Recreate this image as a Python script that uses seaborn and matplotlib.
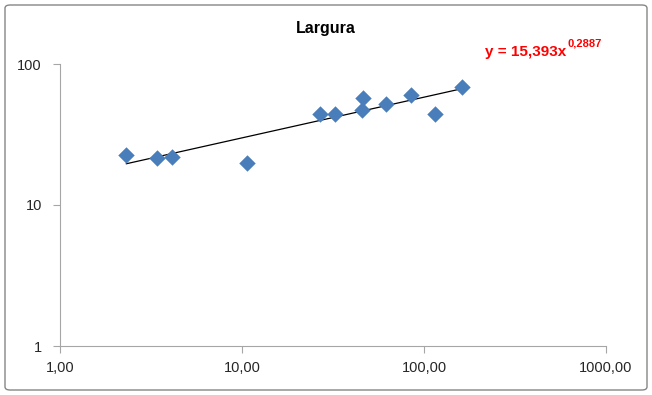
import numpy as np
import pandas as pd
import seaborn as sns
import matplotlib.pyplot as plt
from matplotlib.patches import FancyBboxPatch
from matplotlib.ticker import FixedLocator, NullLocator

sns.set_style("white")
plt.rcParams['font.family'] = ['Liberation Sans', 'DejaVu Sans']

# data
x_vals = [2.31, 3.41, 4.12, 10.7, 26.8, 32.4, 45.6, 46.2, 61.8, 84.8, 115, 162]
y_vals = [22.6, 21.5, 21.9, 19.9, 44.2, 44.2, 47.2, 57.4, 52.0, 60.3, 44.2, 68.7]
coef_a = 15.393
coef_b = 0.2887
x_ticks = [1, 10, 100, 1000]
x_labels = ["1,00", "10,00", "100,00", "1000,00"]
y_ticks = [1, 10, 100]
y_labels = ["1", "10", "100"]

df = pd.DataFrame({'x': x_vals, 'y': y_vals})
xs = np.geomspace(min(x_vals), max(x_vals), 50)
trend = pd.DataFrame({'x': xs, 'y': coef_a * xs ** coef_b})

fig = plt.figure(figsize=(6.52, 3.95), dpi=100)
ax = fig.add_axes([60/652, 49/395, 546/652, 282/395])

## trend line then the points on top
sns.lineplot(data=trend, x='x', y='y', ax=ax, color='black', linewidth=0.9, zorder=2)
sns.scatterplot(data=df, x='x', y='y', ax=ax, marker='D', s=70, color='#4a7ebb',
                edgecolor='#4a7ebb', linewidth=0, zorder=3)

ax.set_xscale('log')
ax.set_yscale('log')
ax.set_xlim(1, 1000)
ax.set_ylim(1, 100)
ax.xaxis.set_major_locator(FixedLocator(x_ticks))
ax.yaxis.set_major_locator(FixedLocator(y_ticks))
ax.xaxis.set_minor_locator(NullLocator())
ax.yaxis.set_minor_locator(NullLocator())
ax.set_xticklabels(x_labels)
ax.set_yticklabels(y_labels)
ax.set_xlabel('')
ax.set_ylabel('')
ax.tick_params(axis='both', which='major', length=5, width=0.8, color='#a6a6a6',
               labelsize=10.5, labelcolor='#262626', direction='out', pad=6)
ax.tick_params(axis='y', pad=8)
ax.tick_params(left=True, bottom=True)
for side in ['top', 'right']:
    ax.spines[side].set_visible(False)
for side in ['left', 'bottom']:
    ax.spines[side].set_color('#a6a6a6')
    ax.spines[side].set_linewidth(0.8)

fig.text(326/652, 1 - 28/395, 'Largura', ha='center', va='center',
         fontsize=11.5, fontweight='bold', color='black')

## equation with superscript exponent
eq = fig.text(485/652, 1 - 52/395, 'y = 15,393x', ha='left', va='center',
              fontsize=11, fontweight='bold', color='#ff0000')
fig.canvas.draw()
bb = eq.get_window_extent()
fig.text(bb.x1/652 + 0.002, 1 - 44/395, '0,2887', ha='left', va='center',
         fontsize=8, fontweight='bold', color='#ff0000')

border = FancyBboxPatch((5/652, 5/395), 642/652, 385/395,
                        boxstyle='round,pad=0,rounding_size=0.008',
                        transform=fig.transFigure, fill=False,
                        edgecolor='#868686', linewidth=1.0)
fig.patches.append(border)

plt.savefig('out.png', dpi=100)
